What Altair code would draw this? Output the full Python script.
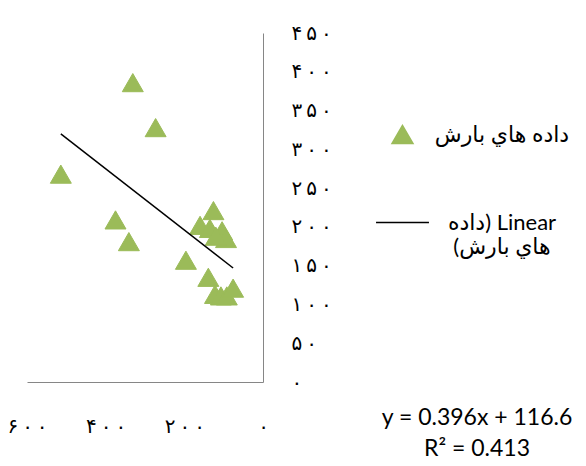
import altair as alt
import pandas as pd

# ---- data ----
S1 = "داده هاي بارش"
S2 = "Linear (داده هاي بارش)"
S2_LINES = ["Linear (داده", "هاي بارش)"]

RAIN_X = [331, 273, 514, 375, 341, 196, 126, 160, 135, 104, 94, 120, 139, 122, 107, 92, 76]
RAIN_Y = [386, 328, 268, 209, 181, 157, 221, 202, 198, 195, 185, 188, 135, 113, 111, 111, 121]

TREND_X = [514, 76]
TREND_Y = [320, 147]

X_TICKS = [0, 200, 400, 600]
Y_TICKS = [0, 50, 100, 150, 200, 250, 300, 350, 400, 450]
PERSIAN_DIGITS = "۰۱۲۳۴۵۶۷۸۹"
EQUATION = ["y = 0.396x + 116.6", "R² = 0.413"]

GREEN = "#9BBB59"
AXIS_GREY = "#868686"

points = pd.DataFrame({"x": RAIN_X, "y": RAIN_Y, "series": S1})
trend = pd.DataFrame({"x": TREND_X, "y": TREND_Y, "series": S2})


def persian_expr():
    # Persian digits, slightly spaced apart as in the reference
    e = "datum.label"
    for d in range(10):
        e = f"replace({e}, regexp('{d}', 'g'), '{PERSIAN_DIGITS[d]}\u2009')"
    return f"trim({e})"


RLE, PDF = "\u202b", "\u202c"
legend_label = (
    f"datum.label == '{S2}' ? ['{RLE}{S2_LINES[0]}{PDF}', '{RLE}{S2_LINES[1]}{PDF}']"
    f" : '{RLE}' + datum.label + '{PDF}'"
)

legend = alt.Legend(
    title=None,
    orient="none",
    legendX=348,
    legendY=90,
    labelExpr=legend_label,
    labelFont="Lato, DejaVu Sans",
    labelFontSize=22,
    labelColor="black",
    labelLimit=300,
    labelAlign="center",
    labelOffset=72,
    rowPadding=48,
    symbolStrokeWidth=1.5,
)

dom = [S1, S2]
fill_scale = alt.Scale(domain=dom, range=[GREEN, "black"])
stroke_scale = alt.Scale(domain=dom, range=[GREEN, "black"])
shape_scale = alt.Scale(domain=dom, range=["triangle-up", "stroke"])
size_scale = alt.Scale(domain=dom, range=[440, 2800])

x_enc = alt.X(
    "x:Q",
    scale=alt.Scale(domain=[0, 600], reverse=True, nice=False, zero=True),
    axis=alt.Axis(
        values=X_TICKS,
        grid=False,
        ticks=False,
        domainColor=AXIS_GREY,
        domainWidth=1,
        labelExpr=persian_expr(),
        labelFont="DejaVu Sans",
        labelFontSize=20,
        labelColor="black",
        labelPadding=34,
        labelFlush=False,
        labelOverlap=False,
        labelBound=False,
        title=None,
    ),
)
y_enc = alt.Y(
    "y:Q",
    scale=alt.Scale(domain=[0, 450], nice=False),
    axis=alt.Axis(
        orient="right",
        values=Y_TICKS,
        grid=False,
        ticks=False,
        domainColor=AXIS_GREY,
        domainWidth=1,
        labelExpr=persian_expr(),
        labelFont="DejaVu Sans",
        labelFontSize=20,
        labelColor="black",
        labelAlign="left",
        labelBaseline="middle",
        labelPadding=28,
        labelFlush=False,
        labelOverlap=False,
        labelBound=False,
        title=None,
    ),
)

pts = alt.Chart(points).mark_point(filled=True, opacity=1, strokeWidth=1).encode(
    x=x_enc,
    y=y_enc,
    fill=alt.Fill("series:N", scale=fill_scale, legend=legend),
    stroke=alt.Stroke("series:N", scale=stroke_scale, legend=legend),
    shape=alt.Shape("series:N", scale=shape_scale, legend=legend),
    size=alt.Size("series:N", scale=size_scale, legend=legend),
)

line = alt.Chart(trend).mark_line(strokeWidth=1.5).encode(
    x=x_enc,
    y=y_enc,
    stroke=alt.Stroke("series:N", scale=stroke_scale, legend=legend),
)

eq = alt.Chart(pd.DataFrame({"t": ["\n".join(EQUATION)]})).mark_text(
    font="Lato",
    fontSize=23,
    align="center",
    baseline="middle",
    lineBreak="\n",
    lineHeight=31,
    color="black",
).encode(text="t:N", x=alt.value(450), y=alt.value(385))

chart = (
    alt.layer(pts, line, eq)
    .properties(
        width=236,
        height=349,
        autosize=alt.AutoSizeParams(type="none"),
        padding={"left": 19, "top": 25, "right": 315, "bottom": 76},
        background="white",
    )
    .configure_view(stroke=None)
)

chart.save("out.html", embed_options={"renderer": "svg", "actions": False})
